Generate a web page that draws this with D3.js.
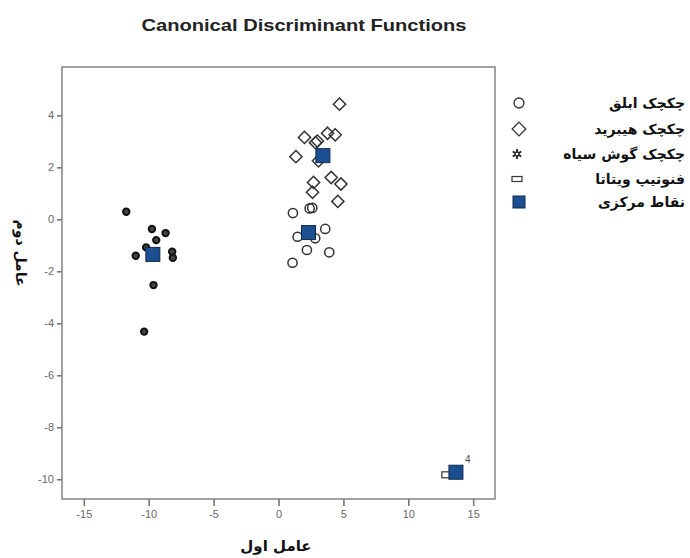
<!DOCTYPE html>
<html><head><meta charset="utf-8">
<script src="https://cdn.jsdelivr.net/npm/d3@7"></script>
<style>body{margin:0;background:#fff}</style>
</head><body>
<script>
// ---- data ----
const groupNames = ["چکچک ابلق","چکچک هیبرید","چکچک گوش سیاه","فنوتیپ ویتاتا","نقاط مرکزی"];
const ablaqX = [2.40,2.60,1.11,3.60,1.47,2.83,2.19,3.91,1.08];
const ablaqY = [0.42,0.44,0.24,-0.37,-0.67,-0.73,-1.18,-1.27,-1.67];
const hybridX = [4.70,2.00,3.78,4.37,3.00,2.85,1.34,3.08,4.06,4.81,2.70,2.62,4.57];
const hybridY = [4.43,3.15,3.31,3.25,3.01,2.95,2.41,2.25,1.61,1.36,1.42,1.04,0.69];
const blackX = [-11.73,-9.75,-8.70,-9.42,-10.20,-11.00,-8.19,-8.14,-9.63,-10.35];
const blackY = [0.29,-0.37,-0.53,-0.80,-1.08,-1.40,-1.25,-1.48,-2.53,-4.32];
const vittataX = [12.97];
const vittataY = [-9.83];
const centroidX = [2.31,3.42,-9.68,13.67];
const centroidY = [-0.51,2.45,-1.35,-9.73];
const centroidLabels = ["","","","4"];
const xTicks = [-15,-10,-5,0,5,10,15];
const yTicks = [4,2,0,-2,-4,-6,-8,-10];

const W=690,H=558;
const svg=d3.select("body").append("svg").attr("width",W).attr("height",H);
const x=d3.scaleLinear().domain([-16.68,16.68]).range([62,495]);
const y=d3.scaleLinear().domain([5.86,-10.76]).range([67,499]);

svg.append("text").attr("x",304).attr("y",31).attr("text-anchor","middle")
  .attr("font-family","Liberation Sans, Arial, sans-serif").attr("font-weight","bold")
  .attr("font-size",17).attr("fill","#222")
  .attr("textLength",325).attr("lengthAdjust","spacingAndGlyphs")
  .text("Canonical Discriminant Functions");

// frame
svg.append("rect").attr("x",62).attr("y",67).attr("width",433).attr("height",432)
  .attr("fill","#fff").attr("stroke","#8a8a8a").attr("stroke-width",1.6);

const fmt=d=>String(d);
const xa=svg.append("g").attr("transform","translate(0,499)")
  .call(d3.axisBottom(x).tickValues(xTicks).tickSize(7).tickPadding(4).tickFormat(fmt));
const ya=svg.append("g").attr("transform","translate(62,0)")
  .call(d3.axisLeft(y).tickValues(yTicks).tickSize(5).tickPadding(3).tickFormat(fmt));
[xa,ya].forEach(a=>{
  a.select(".domain").remove();
  a.selectAll("line").attr("stroke","#777").attr("stroke-width",1.6);
  a.selectAll("text").attr("fill","#666").attr("font-size",11)
   .attr("font-family","Liberation Sans, Arial, sans-serif");
});

const fa="DejaVu Sans, Noto Sans, sans-serif";
svg.append("text").attr("x",276).attr("y",551).attr("text-anchor","middle")
  .attr("font-family",fa).attr("font-weight","bold").attr("font-size",15).attr("fill","#111")
  .text("عامل اول");
svg.append("text").attr("transform","translate(16,253) rotate(90)").attr("text-anchor","middle")
  .attr("font-family",fa).attr("font-weight","bold").attr("font-size",14).attr("fill","#111")
  .text("عامل دوم");

const zip=(a,b)=>a.map((v,i)=>[v,b[i]]);
const g=svg.append("g");
// ablaq circles
g.selectAll(".ab").data(zip(ablaqX,ablaqY)).join("circle")
  .attr("cx",d=>x(d[0])).attr("cy",d=>y(d[1])).attr("r",4.6)
  .attr("fill","none").attr("stroke","#333").attr("stroke-width",1.5);
// hybrid diamonds
const diamond=d3.symbol().type(d3.symbolDiamond2).size(95);
g.selectAll(".hy").data(zip(hybridX,hybridY)).join("path")
  .attr("transform",d=>`translate(${x(d[0])},${y(d[1])})`)
  .attr("d",diamond).attr("fill","none").attr("stroke","#333").attr("stroke-width",1.5);
// black-eared: small dark circles
g.selectAll(".bk").data(zip(blackX,blackY)).join("circle")
  .attr("cx",d=>x(d[0])).attr("cy",d=>y(d[1])).attr("r",3.2)
  .attr("fill","#444").attr("stroke","#111").attr("stroke-width",2);
// vittata rect
g.selectAll(".vt").data(zip(vittataX,vittataY)).join("rect")
  .attr("x",d=>x(d[0])-5).attr("y",d=>y(d[1])-3).attr("width",10).attr("height",6)
  .attr("fill","#fff").attr("stroke","#333").attr("stroke-width",1.2);
// centroids
g.selectAll(".ce").data(zip(centroidX,centroidY)).join("rect")
  .attr("x",d=>x(d[0])-7).attr("y",d=>y(d[1])-7).attr("width",14).attr("height",14)
  .attr("fill","#1c4f8f").attr("stroke","#0d2a4f").attr("stroke-width",1);
g.selectAll(".cl").data(centroidX.map((v,i)=>[v,centroidY[i],centroidLabels[i]])).join("text")
  .attr("x",d=>x(d[0])+9).attr("y",d=>y(d[1])-9).attr("font-size",10)
  .attr("font-family","Liberation Sans, Arial, sans-serif").attr("fill","#444").text(d=>d[2]);

// legend
const ly=[103,129,154,179,202];
const lg=svg.append("g");
groupNames.forEach((n,i)=>{
  lg.append("text").attr("x",685).attr("y",ly[i]+5).attr("text-anchor","end")
    .attr("font-family",fa).attr("font-weight","bold").attr("font-size",14).attr("fill","#111")
    .text(n);
});
const sx=519;
lg.append("circle").attr("cx",sx).attr("cy",ly[0]).attr("r",5).attr("fill","none").attr("stroke","#333").attr("stroke-width",1.3);
lg.append("path").attr("transform",`translate(${sx},${ly[1]})`).attr("d",d3.symbol().type(d3.symbolDiamond2).size(120))
  .attr("fill","none").attr("stroke","#333").attr("stroke-width",1.3);
lg.append("path").attr("transform",`translate(${sx-2},${ly[2]})`).attr("d",d3.symbol().type(d3.symbolAsterisk).size(70))
  .attr("fill","none").attr("stroke","#222").attr("stroke-width",1.8);
lg.append("circle").attr("cx",sx-2).attr("cy",ly[2]).attr("r",2).attr("fill","#fff").attr("stroke","#222").attr("stroke-width",1.3);
lg.append("rect").attr("x",sx-7).attr("y",ly[3]-2.5).attr("width",10).attr("height",5)
  .attr("fill","#fff").attr("stroke","#333").attr("stroke-width",1.2);
lg.append("rect").attr("x",sx-6).attr("y",ly[4]-6).attr("width",12).attr("height",12)
  .attr("fill","#1c4f8f").attr("stroke","#0d2a4f").attr("stroke-width",1);
</script>
</body></html>
